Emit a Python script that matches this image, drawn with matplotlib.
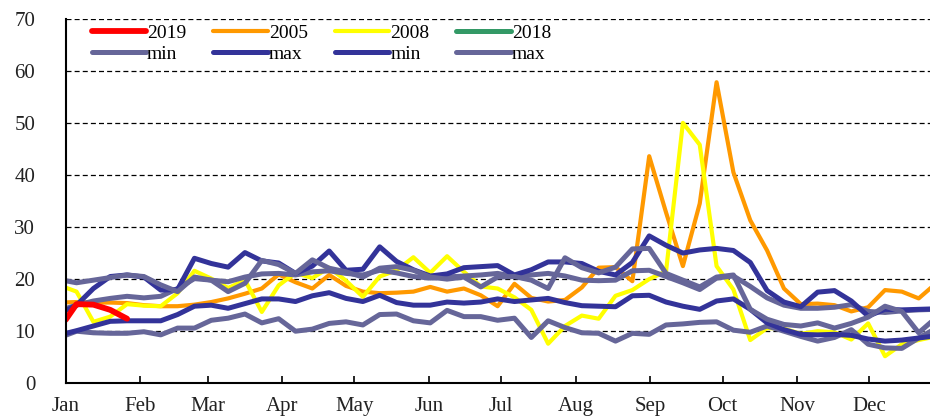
import matplotlib
matplotlib.use("Agg")
import matplotlib.pyplot as plt
import numpy as np

plt.rcParams["font.family"] = ["Liberation Serif", "DejaVu Serif"]

MONTHS = ["Jan", "Feb", "Mar", "Apr", "May", "Jun",
          "Jul", "Aug", "Sep", "Oct", "Nov", "Dec"]
MONTH_START_DAY = [0, 31, 59, 90, 120, 151, 181, 212, 243, 273, 304, 334]

# weekly observations (day of year); the first one falls in late December
WEEK_DAY = np.arange(53) * 7 - 2.5

Y2019_DAY = [0, 4.5, 11.5, 18.5, 25.5]
Y2019 = [12.2, 15.2, 15.1, 14.1, 12.4]

Y2005 = [15.5, 15.6, 15.5, 15.5, 15.4, 15.0, 14.8, 14.8, 15.1, 15.6, 16.3, 17.2, 18.2,
         20.9, 19.4, 18.2, 20.8, 18.7, 17.6, 17.3, 17.4, 17.6, 18.5, 17.6, 18.2, 16.9,
         14.8, 19.1, 16.4, 15.7, 16.0, 18.4, 22.2, 22.3, 19.6, 43.6, 32.8, 22.5, 34.5,
         57.8, 40.5, 31.3, 25.5, 18.2, 15.2, 15.3, 15.0, 13.8, 14.6, 17.9, 17.6, 16.3, 19.1]

Y2008 = [18.8, 17.6, 11.8, 12.8, 15.2, 14.9, 14.8, 17.3, 21.6, 20.1, 18.3, 19.8, 13.7,
         18.8, 21.2, 20.2, 22.2, 19.7, 16.6, 20.5, 21.7, 24.2, 21.2, 24.4, 21.4, 18.6,
         18.2, 16.5, 14.1, 7.6, 11.0, 13.0, 12.4, 16.8, 17.9, 20.0, 21.5, 50.0, 45.8,
         22.5, 18.0, 8.3, 10.6, 10.5, 9.5, 10.0, 9.8, 8.4, 11.5, 5.2, 7.5, 8.3, 9.0]

# grey line without its own legend entry
MID_GREY = [14.0, 15.0, 15.8, 16.3, 16.7, 16.4, 16.7, 18.2, 20.1, 19.8, 19.5, 20.4, 21.0,
            21.1, 20.8, 21.4, 21.6, 21.1, 20.8, 21.7, 21.2, 20.5, 20.2, 20.4, 20.6, 20.8,
            21.1, 20.5, 20.8, 21.1, 20.6, 19.8, 19.7, 19.8, 21.6, 21.7, 20.5, 19.3, 18.0,
            20.2, 20.6, 18.6, 16.4, 15.0, 14.4, 14.4, 14.6, 15.1, 13.8, 13.6, 13.9, 14.1, 14.2]

MIN_A = [8.8, 10.0, 9.7, 9.6, 9.6, 9.9, 9.3, 10.6, 10.6, 12.1, 12.5, 13.3, 11.6,
         12.4, 10.0, 10.4, 11.5, 11.8, 11.2, 13.2, 13.3, 12.0, 11.6, 14.0, 12.8, 12.8,
         12.1, 12.5, 8.8, 12.0, 10.7, 9.7, 9.6, 8.1, 9.6, 9.4, 11.2, 11.4, 11.7,
         11.8, 10.2, 9.8, 11.0, 10.0, 9.0, 8.1, 8.8, 10.3, 7.5, 6.8, 6.7, 8.7, 10.5]

MAX_A = [13.4, 15.0, 18.2, 20.5, 20.8, 20.4, 17.9, 18.0, 24.0, 23.0, 22.3, 25.1, 23.5,
         23.1, 21.1, 22.5, 25.4, 21.7, 21.9, 26.2, 23.4, 21.8, 20.6, 21.0, 22.2, 22.4,
         22.6, 20.8, 21.8, 23.3, 23.3, 23.0, 21.5, 20.8, 23.2, 28.3, 26.5, 25.0, 25.6,
         25.9, 25.5, 23.2, 17.8, 15.6, 14.7, 17.5, 17.8, 15.8, 12.9, 14.2, 14.1, 14.2, 14.3]

MIN_B = [9.3, 10.1, 11.0, 11.9, 12.0, 12.0, 12.0, 13.2, 14.8, 15.0, 14.4, 15.3, 16.2,
         16.2, 15.7, 16.8, 17.4, 16.3, 15.7, 16.9, 15.5, 15.0, 15.0, 15.6, 15.4, 15.6,
         16.2, 15.7, 16.0, 16.3, 15.5, 14.9, 14.8, 14.7, 16.8, 16.9, 15.6, 14.8, 14.2,
         15.8, 16.2, 14.2, 11.6, 10.3, 9.4, 9.3, 9.4, 9.2, 8.5, 8.1, 8.3, 8.7, 9.1]

MAX_B = [19.9, 19.3, 19.8, 20.3, 20.8, 20.5, 18.9, 17.6, 20.4, 19.8, 17.6, 19.2, 23.6,
         22.8, 21.1, 23.7, 22.1, 21.4, 20.4, 22.1, 22.4, 21.7, 20.4, 20.0, 20.4, 18.5,
         20.4, 20.5, 19.8, 18.2, 24.1, 22.2, 21.2, 22.3, 25.8, 25.9, 21.1, 19.8, 18.5,
         20.4, 20.8, 14.2, 12.3, 11.3, 11.0, 11.6, 10.6, 11.5, 12.7, 14.8, 13.8, 9.7, 12.5]

RED = "#FF0000"
ORANGE = "#FF9900"
YELLOW = "#FFFF00"
GREEN = "#339966"
GREY = "#666699"
NAVY = "#333399"

fig = plt.figure(figsize=(9.3, 4.18), dpi=100)
ax = fig.add_axes([65.7 / 930, 34.7 / 418, 864.3 / 930, 364.6 / 418])

kw = dict(solid_capstyle="round", solid_joinstyle="round")
h05, = ax.plot(WEEK_DAY, Y2005, color=ORANGE, lw=3.0, label="2005", **kw)
h08, = ax.plot(WEEK_DAY, Y2008, color=YELLOW, lw=3.0, label="2008", **kw)
h18, = ax.plot([], [], color=GREEN, lw=3.6, label="2018", **kw)
ax.plot(WEEK_DAY, MID_GREY, color=GREY, lw=3.6, **kw)
hmin_a, = ax.plot(WEEK_DAY, MIN_A, color=GREY, lw=3.6, label="min", **kw)
hmax_a, = ax.plot(WEEK_DAY, MAX_A, color=NAVY, lw=3.6, label="max", **kw)
hmin_b, = ax.plot(WEEK_DAY, MIN_B, color=NAVY, lw=3.6, label="min", **kw)
hmax_b, = ax.plot(WEEK_DAY, MAX_B, color=GREY, lw=3.6, label="max", **kw)
h19, = ax.plot(Y2019_DAY, Y2019, color=RED, lw=4.2, label="2019", **kw)

ax.set_xlim(0, 359.2)
ax.set_ylim(0, 70)
ax.set_xticks(MONTH_START_DAY)
ax.set_xticklabels(MONTHS)
ax.set_yticks(range(0, 71, 10))
ax.tick_params(axis="x", direction="in", length=5, width=1.2, pad=10,
               labelsize=15, labelcolor="#222222")
ax.tick_params(axis="y", length=0, pad=22, labelsize=15, labelcolor="#222222")

for side in ("top", "right"):
    ax.spines[side].set_visible(False)
for side in ("left", "bottom"):
    ax.spines[side].set_linewidth(1.5)
    ax.spines[side].set_color("black")
ax.yaxis.grid(True, color="black", linestyle=(0, (4, 2.5)), linewidth=0.9)
ax.set_axisbelow(True)

# legend reads row-wise: years on top, min/max below
handles = [h19, hmin_a, h05, hmax_a, h08, hmin_b, h18, hmax_b]
ax.legend(handles, [h.get_label() for h in handles], ncol=4, loc="upper left",
          bbox_to_anchor=(0.030, 0.985), frameon=False, fontsize=14,
          handlelength=2.8, handletextpad=0.05, columnspacing=1.39,
          labelspacing=0.2, borderpad=0, borderaxespad=0)

fig.savefig("out.png", dpi=100)
